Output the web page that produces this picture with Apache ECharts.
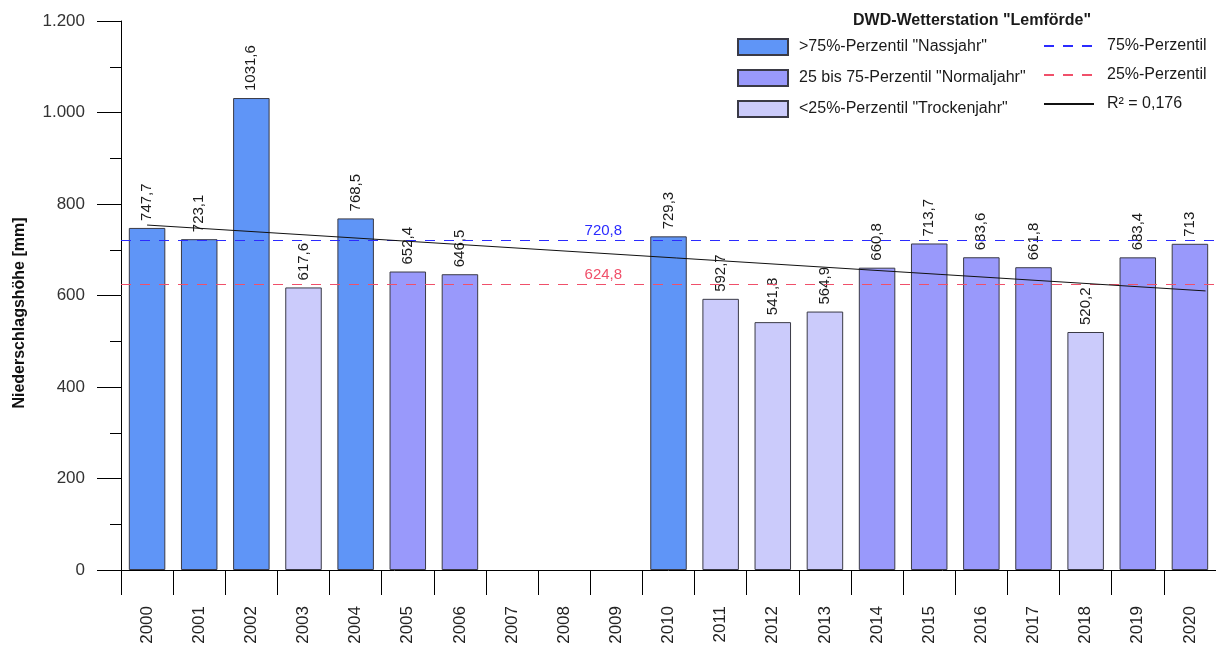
<!DOCTYPE html>
<html>
<head>
<meta charset="utf-8">
<script src="https://cdn.jsdelivr.net/npm/echarts@6/dist/echarts.min.js"></script>
<style>
  html, body { margin: 0; padding: 0; background: #fff; }
  #chart { width: 1216px; height: 648px; }
</style>
</head>
<body>
<div id="chart"></div>
<script>
// Jahresniederschlag an der DWD-Station Lemförde, 2000–2020
const years = ['2000','2001','2002','2003','2004','2005','2006','2007','2008','2009','2010',
               '2011','2012','2013','2014','2015','2016','2017','2018','2019','2020'];
const precipitation = [747.7, 723.1, 1031.6, 617.6, 768.5, 652.4, 646.5, null, null, null, 729.3,
                       592.7, 541.8, 564.9, 660.8, 713.7, 683.6, 661.8, 520.2, 683.4, 713];
// Einstufung je Jahr: 'nass' > 75%-Perzentil, 'normal' 25–75, 'trocken' < 25%-Perzentil
const yearClass = ['nass','nass','nass','trocken','nass','normal','normal',null,null,null,'nass',
                   'trocken','trocken','trocken','normal','normal','normal','normal','trocken','normal','normal'];
const percentile75 = 720.8;
const percentile25 = 624.8;
// Lineare Trendlinie (Jahresindex ab 2000, Wert in mm)
const trendX = [0, 20.3];
const trendY = [754, 610];
const trendR2 = '0,176';
const yTicks = { min: 0, max: 1200, step: 200 };

const FONT = '"Liberation Sans", Arial, sans-serif';
const fmtDe = v => String(v).replace('.', ',');

const classes = [
  { key: 'nass',    name: '>75%-Perzentil "Nassjahr"',            color: '#5f95f7' },
  { key: 'normal',  name: '25 bis 75-Perzentil "Normaljahr"',      color: '#9999fb' },
  { key: 'trocken', name: '<25%-Perzentil "Trockenjahr"',          color: '#cbcbfb' }
];

const barSeries = classes.map(c => ({
  name: c.name,
  type: 'bar',
  stack: 'jahr',
  barWidth: '70%',
  data: precipitation.map((v, i) => (yearClass[i] === c.key ? v : null)),
  itemStyle: { color: c.color, borderColor: '#3a3a46', borderWidth: 1 },
  label: {
    show: true,
    position: 'top',
    rotate: 90,
    align: 'left',
    verticalAlign: 'middle',
    distance: 7,
    fontFamily: FONT,
    fontSize: 15,
    color: '#1a1a1a',
    formatter: p => fmtDe(p.value)
  },
  z: 2
}));

function percentileSeries(name, value, color) {
  return {
    name: name,
    type: 'line',
    xAxisIndex: 1,
    data: [],
    symbol: 'none',
    color: color,
    lineStyle: { color: color, width: 1.2, type: [10, 9] },
    markLine: {
      silent: true,
      symbol: 'none',
      label: { show: false },
      lineStyle: { color: color, width: 1.2, type: [10, 9] },
      data: [{ yAxis: value }]
    },
    markPoint: {
      silent: true,
      symbol: 'circle',
      symbolSize: 0,
      data: [{ coord: [8.75, value] }],
      label: {
        show: true,
        position: 'top',
        distance: 2,
        formatter: fmtDe(value),
        fontFamily: FONT,
        fontSize: 15,
        color: color
      }
    },
    z: 5
  };
}

const chart = echarts.init(document.getElementById('chart'), null, { renderer: 'canvas' });

const lineLegendNames = ['75%-Perzentil', '25%-Perzentil', 'R² = ' + trendR2];

chart.setOption({
  backgroundColor: '#ffffff',
  animation: false,
  title: {
    text: 'DWD-Wetterstation "Lemförde"',
    left: 972,
    top: 13,
    padding: 0,
    textAlign: 'center',
    textStyle: { fontFamily: FONT, fontSize: 16, fontWeight: 'bold', color: '#1a1a1a' }
  },
  legend: [
    {
      data: classes.map(c => c.name),
      orient: 'vertical',
      left: 737,
      top: 38,
      padding: 0,
      icon: 'rect',
      itemWidth: 50,
      itemHeight: 16,
      itemGap: 13,
      selectedMode: false,
      textStyle: { fontFamily: FONT, fontSize: 16, lineHeight: 16, color: '#1a1a1a', padding: [0, 0, 0, 6] }
    },
    {
      data: lineLegendNames.map(n => ({ name: n, itemStyle: { opacity: 0 } })),
      orient: 'vertical',
      left: 1043,
      top: 38,
      padding: 0,
      itemWidth: 50,
      itemHeight: 16,
      itemGap: 13,
      selectedMode: false,
      textStyle: { fontFamily: FONT, fontSize: 16, lineHeight: 16, color: '#1a1a1a', padding: [0, 0, 0, 8] }
    }
  ],
  grid: { left: 121, right: -1, top: 21, bottom: 78, containLabel: false },
  xAxis: [
    {
      type: 'category',
      data: years,
      axisLine: { onZero: false, lineStyle: { color: '#000', width: 1 } },
      axisTick: { show: true, length: 25, lineStyle: { color: '#000', width: 1 } },
      axisLabel: { rotate: 90, margin: 36, fontFamily: FONT, fontSize: 17, color: '#222' },
      splitLine: { show: false }
    },
    {
      type: 'value',
      min: -0.5,
      max: years.length - 0.5,
      show: false
    }
  ],
  yAxis: {
    type: 'value',
    min: yTicks.min,
    max: yTicks.max,
    interval: yTicks.step,
    axisLine: { show: true, onZero: false, lineStyle: { color: '#000', width: 1 } },
    axisTick: { show: true, length: 24, lineStyle: { color: '#000', width: 1 } },
    minorTick: { show: true, splitNumber: 2, length: 11, lineStyle: { color: '#000', width: 1 } },
    splitLine: { show: false },
    axisLabel: {
      margin: 36,
      fontFamily: FONT,
      fontSize: 17,
      color: '#333',
      formatter: v => String(v).replace(/\B(?=(\d{3})+(?!\d))/g, '.')
    }
  },
  graphic: [
    {
      type: 'text',
      x: 20,
      y: 313,
      rotation: Math.PI / 2,
      style: {
        text: 'Niederschlagshöhe [mm]',
        font: 'bold 16px ' + FONT,
        fill: '#111',
        align: 'center',
        verticalAlign: 'middle'
      }
    }
  ],
  series: [
    ...barSeries,
    percentileSeries('75%-Perzentil', percentile75, '#2b2bff'),
    percentileSeries('25%-Perzentil', percentile25, '#f0506a'),
    {
      name: 'R² = ' + trendR2,
      type: 'line',
      xAxisIndex: 1,
      data: trendX.map((x, i) => [x, trendY[i]]),
      symbol: 'none',
      color: '#111',
      lineStyle: { color: '#111', width: 1 },
      z: 6
    }
  ]
});
</script>
</body>
</html>
